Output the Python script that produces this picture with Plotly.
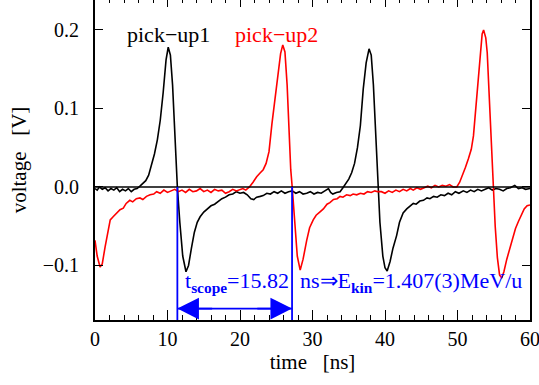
import plotly.graph_objects as go

# ---- data ----
t_pu1 = [0, 0.3, 0.6, 1.0, 1.4, 1.8, 2.2, 2.6, 3.0, 3.4, 3.8, 4.2, 4.6, 5.0, 5.4, 5.8, 6.2, 6.6, 7.0, 7.4,
         7.8, 8.2, 8.6, 9.0, 9.4, 9.8, 10.1, 10.4, 10.7, 11.0, 11.36, 11.7, 12.1, 12.55, 12.9, 13.3, 13.7,
         14.1, 14.5, 15.0, 15.5, 16.0, 16.5, 17.0, 17.5, 18.0, 18.5, 19.0, 19.5, 20.0, 20.5, 21.0, 21.5,
         21.9, 22.3, 22.8, 23.2, 23.7, 24.2, 24.7, 25.2, 25.7, 26.2, 26.7, 27.2, 27.7, 28.2, 28.7, 29.2,
         29.7, 30.2, 30.7, 31.2, 31.7, 32.2, 32.5, 32.8, 33.3, 33.8, 34.2, 34.6, 35.0, 35.4, 35.8, 36.2,
         36.6, 37.0, 37.4, 37.8, 38.1, 38.4, 38.7, 39.0, 39.3, 39.7, 40.0, 40.3, 40.7, 41.1, 41.6, 42.0,
         42.5, 43.0, 43.4, 43.9, 44.3, 44.8, 45.3, 45.8, 46.2, 46.7, 47.2, 47.7, 48.2, 48.7, 49.2, 49.7,
         50.2, 50.8, 51.3, 51.8, 52.3, 52.8, 53.3, 53.8, 54.3, 54.8, 55.3, 55.8, 56.3, 56.8, 57.3, 57.9,
         58.4, 58.9, 59.4, 60.0]
v_pu1 = [-0.002, -0.004, 0.000, -0.003, -0.001, -0.005, -0.002, -0.004, -0.001, -0.006, -0.003, -0.005,
         -0.002, -0.006, -0.003, -0.002, 0.001, 0.004, 0.008, 0.015, 0.027, 0.042, 0.060, 0.085, 0.120,
         0.162, 0.178, 0.168, 0.130, 0.065, 0.000, -0.045, -0.088, -0.108, -0.100, -0.078, -0.058, -0.045,
         -0.038, -0.032, -0.028, -0.024, -0.022, -0.018, -0.015, -0.013, -0.010, -0.009, -0.006, -0.008,
         -0.007, -0.010, -0.015, -0.016, -0.013, -0.012, -0.011, -0.008, -0.009, -0.006, -0.008, -0.005,
         -0.008, -0.006, -0.005, -0.008, -0.006, -0.009, -0.008, -0.006, -0.009, -0.007, -0.008, -0.005,
         -0.002, -0.007, -0.009, -0.007, -0.006, -0.001, 0.004, 0.010, 0.018, 0.030, 0.050, 0.078, 0.125,
         0.158, 0.176, 0.168, 0.130, 0.070, 0.000, -0.045, -0.088, -0.103, -0.107, -0.095, -0.078, -0.062,
         -0.045, -0.033, -0.028, -0.025, -0.021, -0.022, -0.018, -0.017, -0.014, -0.015, -0.012, -0.013,
         -0.010, -0.011, -0.008, -0.010, -0.006, -0.008, -0.005, -0.007, -0.004, -0.006, -0.003, -0.005,
         -0.003, -0.001, -0.004, -0.002, -0.003, -0.005, -0.002, -0.001, 0.002, -0.002, -0.001, -0.003,
         -0.002]

t_pu2 = [0, 0.3, 0.7, 1.0, 1.4, 1.8, 2.1, 2.5, 3.0, 3.45, 3.9, 4.3, 4.8, 5.2, 5.7, 6.2, 6.6, 7.1, 7.6, 8.1,
         8.5, 9.0, 9.5, 10.0, 10.5, 11.0, 11.5, 12.0, 12.5, 13.0, 13.5, 14.0, 14.5, 15.0, 15.5, 16.0, 16.5,
         17.0, 17.5, 18.0, 18.5, 19.0, 19.5, 20.0, 20.4, 20.8, 21.3, 21.8, 22.3, 22.8, 23.2, 23.6, 24.0,
         24.4, 24.8, 25.2, 25.6, 25.9, 26.2, 26.5, 26.8, 27.0, 27.2, 27.5, 27.9, 28.3, 28.7, 29.2, 29.6,
         30.1, 30.5, 31.0, 31.5, 32.0, 32.4, 32.9, 33.4, 33.8, 34.2, 34.7, 35.2, 35.6, 36.1, 36.6, 37.1,
         37.6, 38.1, 38.6, 39.0, 39.5, 40.0, 40.5, 41.0, 41.5, 42.0, 42.5, 43.0, 43.5, 43.9, 44.4, 44.9,
         45.4, 45.9, 46.4, 46.9, 47.4, 47.9, 48.4, 48.9, 49.4, 49.9, 50.3, 50.7, 51.1, 51.5, 51.9, 52.2,
         52.5, 52.8, 53.1, 53.4, 53.6, 53.9, 54.1, 54.3, 54.5, 54.7, 54.9, 55.2, 55.5, 55.8, 56.1, 56.4,
         56.8, 57.2, 57.6, 58.0, 58.4, 58.8, 59.2, 59.6, 60.0]
v_pu2 = [-0.068, -0.088, -0.102, -0.098, -0.076, -0.055, -0.042, -0.038, -0.033, -0.029, -0.027, -0.021,
         -0.017, -0.019, -0.015, -0.014, -0.016, -0.012, -0.010, -0.009, -0.006, -0.008, -0.004, -0.007,
         -0.005, -0.003, -0.006, -0.004, -0.007, -0.003, -0.006, -0.005, -0.002, -0.006, -0.004, -0.007,
         -0.003, -0.005, -0.004, -0.008, -0.006, -0.003, -0.005, -0.003, -0.002, -0.004, 0.000, 0.006,
         0.013, 0.018, 0.022, 0.030, 0.045, 0.080, 0.112, 0.140, 0.170, 0.181, 0.172, 0.130, 0.060, 0.022,
         0.000, -0.040, -0.088, -0.106, -0.092, -0.068, -0.052, -0.042, -0.036, -0.032, -0.028, -0.022,
         -0.020, -0.016, -0.015, -0.012, -0.013, -0.010, -0.011, -0.009, -0.010, -0.008, -0.009, -0.006,
         -0.007, -0.005, -0.006, -0.006, -0.008, -0.005, -0.007, -0.004, -0.006, -0.003, -0.005, -0.002,
         -0.004, -0.001, -0.003, -0.001, 0.001, -0.001, 0.002, 0.000, 0.002, 0.001, 0.003, 0.000, 0.000,
         0.006, 0.015, 0.025, 0.036, 0.048, 0.065, 0.100, 0.135, 0.171, 0.195, 0.200, 0.190, 0.171, 0.130,
         0.085, 0.040, 0.000, -0.050, -0.090, -0.112, -0.116, -0.108, -0.092, -0.078, -0.065, -0.053,
         -0.044, -0.035, -0.028, -0.024, -0.023]

t_cross1 = 11.36   # zero crossing pick-up1
t_cross2 = 27.18   # zero crossing pick-up2
arrow_level = -0.155
label_pu1 = "pick\u2212up1"
label_pu2 = "pick\u2212up2"
result_text = ("t<sub><b>scope</b></sub>=15.82\u2002ns\u21d2E<sub><b>kin</b></sub>"
               "=1.407(3)MeV/u")
x_ticks = [0, 10, 20, 30, 40, 50, 60]
y_ticks = [-0.1, 0.0, 0.1, 0.2]
y_ticktext = ["\u22120.1", "0.0", "0.1", "0.2"]

FONT = "Liberation Serif"
BLUE = "#0000ff"

fig = go.Figure()
fig.add_trace(go.Scatter(x=t_pu1, y=v_pu1, mode="lines",
                         line=dict(color="black", width=1.6), showlegend=False))
fig.add_trace(go.Scatter(x=t_pu2, y=v_pu2, mode="lines",
                         line=dict(color="#ff0000", width=1.6), showlegend=False))
# invisible trace to activate top tick axis
fig.add_trace(go.Scatter(x=[x_ticks[0]], y=[0], xaxis="x2", mode="lines",
                         line=dict(width=0), showlegend=False, hoverinfo="skip"))

# zero line
fig.add_shape(type="line", xref="paper", yref="y", x0=0, x1=1, y0=0, y1=0,
              line=dict(color="black", width=1.5))
# vertical blue markers
for tc in (t_cross1, t_cross2):
    fig.add_shape(type="line", xref="x", yref="y", x0=tc, x1=tc, y0=0, y1=-0.17,
                  line=dict(color=BLUE, width=1.8))

# double arrow: shaft + two heads
fig.add_shape(type="line", xref="x", yref="y", x0=t_cross1, x1=t_cross2,
              y0=arrow_level, y1=arrow_level, line=dict(color=BLUE, width=1.6))
for tc, sgn in ((t_cross1, 1), (t_cross2, -1)):
    fig.add_annotation(x=tc, y=arrow_level, ax=tc + sgn * 5, ay=arrow_level, xref="x", yref="y",
                       axref="x", ayref="y", text="", showarrow=True, arrowhead=2,
                       arrowsize=2.7, arrowwidth=1.6, arrowcolor=BLUE, standoff=0)

fig.add_annotation(x=10.07, y=0.194, xref="x", yref="y", text=label_pu1, showarrow=False,
                   font=dict(family=FONT, size=22, color="black"))
fig.add_annotation(x=25.1, y=0.194, xref="x", yref="y", text=label_pu2, showarrow=False,
                   font=dict(family=FONT, size=22, color="#ff0000"))
fig.add_annotation(x=12.1, y=-0.121, xref="x", yref="y", text=result_text, showarrow=False,
                   xanchor="left", yanchor="middle",
                   font=dict(family=FONT, size=22, color=BLUE))

fig.update_layout(
    width=539, height=385,
    margin=dict(l=95, r=9, t=0, b=65, autoexpand=False),
    paper_bgcolor="white", plot_bgcolor="white",
    font=dict(family=FONT, size=20, color="black"),
    xaxis=dict(range=[0, 60], tickvals=x_ticks, ticks="inside", ticklen=10, tickwidth=1.3,
               tickcolor="black", showline=True, linecolor="black", linewidth=2, mirror=False,
               showgrid=False, zeroline=False, automargin=False, ticklabeloverflow="allow",
               minor=dict(dtick=2, ticks="inside", ticklen=5, tickwidth=1.1, tickcolor="black",
                          showgrid=False),
               title=dict(text="time\u2002 [ns]", standoff=2, font=dict(family=FONT, size=21)),
               tickfont=dict(family=FONT, size=20)),
    xaxis2=dict(range=[0, 60], overlaying="x", matches="x", side="top", tickvals=x_ticks,
                ticks="inside", ticklen=7, tickwidth=1.3, tickcolor="black", automargin=False,
                showticklabels=False, showline=False, showgrid=False, zeroline=False,
                minor=dict(dtick=2, ticks="inside", ticklen=3, tickwidth=1.1, tickcolor="black",
                           showgrid=False)),
    yaxis=dict(range=[-0.1695, 0.2382], tickvals=y_ticks, ticktext=y_ticktext, ticks="inside",
               ticklen=8, tickwidth=1.3, tickcolor="black", showline=True, linecolor="black",
               linewidth=2, mirror="ticks", showgrid=False, zeroline=False, automargin=False,
               ticklabelstandoff=10, ticklabeloverflow="allow",
               title=dict(text="voltage\u2002 [V]", standoff=10, font=dict(family=FONT, size=21)),
               tickfont=dict(family=FONT, size=20)),
)

fig.write_html("out.html", post_script="document.body.style.margin='0px';",
               config={"displayModeBar": False})
